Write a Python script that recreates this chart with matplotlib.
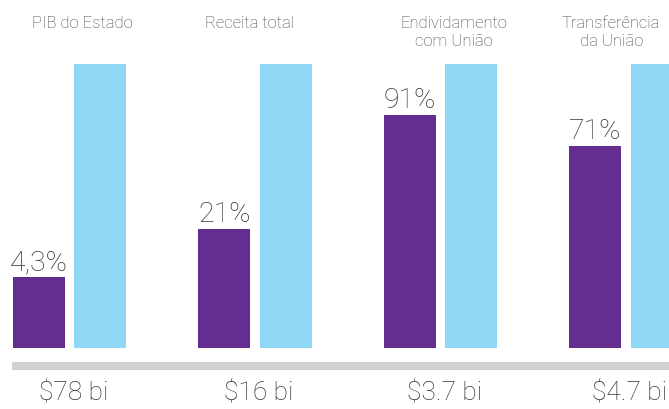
import numpy as np
import matplotlib
matplotlib.use("Agg")
import matplotlib.pyplot as plt

# data
titles = ["PIB do Estado", "Receita total", "Endividamento\ncom União", "Transferência\nda União"]
pct_labels = ["4,3%", "21%", "91%", "71%"]
# drawn heights of purple bars, as share of the full (blue) bar
bar_heights = [25, 42, 82, 71]
full = [100, 100, 100, 100]
totals = ["$78 bi", "$16 bi", "$3.7 bi", "$4.7 bi"]

purple = "#652d90"
blue = "#8fd8f5"
grey = "#d0d1d3"
txt = "#333333"

plt.rcParams["font.family"] = ["Roboto", "DejaVu Sans"]

fig = plt.figure(figsize=(6.69, 4.09), dpi=100)
ax = fig.add_axes([0, 0, 1, 1])

x = np.arange(len(titles))
w = 0.28
off = 0.165

ax.bar(x - off, bar_heights, width=w, color=purple)
ax.bar(x + off, full, width=w, color=blue)

for i in range(len(x)):
    ax.annotate(pct_labels[i], (x[i] - off, bar_heights[i]), xytext=(0, 5),
                textcoords="offset points", ha="center", va="baseline",
                fontsize=20.5, fontweight="light", color=txt)

title_x = [0.07, 0.97, 2.07, 2.92]
for i, t in enumerate(titles):
    ax.text(title_x[i], 116.8, t, ha="center", va="top", fontsize=12,
            fontweight="light", color="#444444", linespacing=1.2)

ax.axhline(-6.3, xmin=12 / 669, xmax=1, color=grey, linewidth=5.8,
           solid_capstyle="butt")

for i, t in enumerate(totals):
    ax.text(x[i] + 0.02, -15.9, t, ha="center", va="center", fontsize=19,
            fontweight="light", color=txt)

ax.set_xlim(-0.375, 3.232)
ax.set_ylim(-21.5, 122.5)
ax.axis("off")

fig.savefig("out.png", dpi=100)
